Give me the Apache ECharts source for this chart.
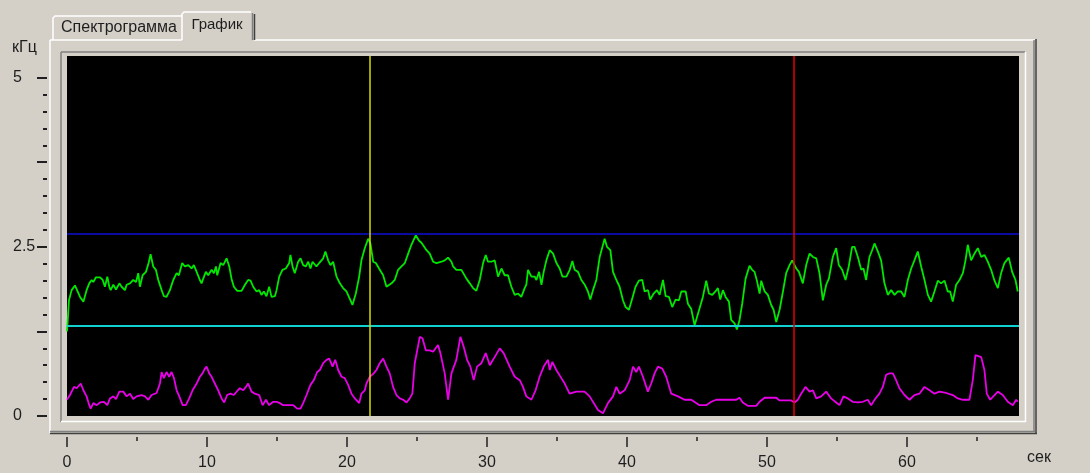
<!DOCTYPE html>
<html>
<head>
<meta charset="utf-8">
<script src="https://cdn.jsdelivr.net/npm/echarts@6/dist/echarts.min.js"></script>
<style>
  html, body { margin: 0; padding: 0; background: #d4d0c8; }
  #chart { width: 1090px; height: 473px; }
</style>
</head>
<body>
<div id="chart"></div>
<script>
// time in seconds, frequency in kHz
const upperTrace = [
  [0.00,1.25],[0.07,1.47],[0.14,1.71],[0.33,1.86],[0.57,1.93],[0.93,1.76],[1.17,1.69],[1.40,1.86],[1.59,1.96],[1.76,2.01],
  [1.88,1.98],[2.07,2.05],[2.36,2.05],[2.55,2.01],[2.71,1.91],[2.88,2.06],[3.02,1.91],[3.12,1.86],[3.31,1.94],[3.50,1.87],
  [3.74,1.96],[3.90,1.91],[4.14,1.86],[4.26,1.94],[4.50,1.96],[4.73,2.01],[4.93,1.98],[5.09,2.11],[5.21,1.91],[5.40,2.08],
  [5.64,2.13],[5.83,2.26],[5.97,2.39],[6.16,2.21],[6.35,2.16],[6.52,2.01],[6.76,1.86],[6.92,1.77],[7.11,1.76],[7.35,1.86],
  [7.59,2.01],[7.83,2.11],[7.99,2.08],[8.23,2.26],[8.42,2.21],[8.66,2.23],[8.90,2.18],[9.06,2.23],[9.26,2.13],[9.49,2.01],
  [9.61,1.96],[9.73,2.03],[9.92,2.13],[10.09,2.08],[10.33,2.16],[10.49,2.11],[10.64,2.21],[10.73,2.08],[10.97,2.26],[11.16,2.23],
  [11.40,2.33],[11.59,2.21],[11.75,2.03],[11.92,1.91],[12.16,1.85],[12.47,1.85],[12.71,1.94],[12.94,2.01],[13.11,2.00],[13.30,1.91],
  [13.54,1.84],[13.73,1.86],[13.89,1.79],[14.06,1.84],[14.25,1.77],[14.44,1.91],[14.61,1.76],[14.85,1.77],[14.97,1.86],[15.16,2.06],
  [15.39,2.16],[15.63,2.18],[15.73,2.16],[15.87,2.26],[15.96,2.38],[16.11,2.21],[16.27,2.11],[16.51,2.28],[16.68,2.33],[16.87,2.23],
  [17.06,2.21],[17.23,2.28],[17.39,2.18],[17.54,2.28],[17.82,2.21],[18.01,2.26],[18.30,2.33],[18.46,2.43],[18.65,2.30],[18.82,2.23],
  [19.01,2.28],[19.25,2.06],[19.49,1.96],[19.72,1.89],[19.96,1.84],[20.25,1.71],[20.39,1.64],[20.63,1.81],[20.87,2.06],[21.03,2.30],
  [21.27,2.48],[21.51,2.62],[21.67,2.55],[21.87,2.28],[22.06,2.26],[22.29,2.18],[22.58,2.08],[22.82,1.91],[22.94,1.91],[23.18,1.96],
  [23.41,2.01],[23.65,2.16],[23.89,2.21],[24.13,2.26],[24.37,2.40],[24.60,2.53],[24.91,2.67],[25.15,2.59],[25.32,2.56],[25.68,2.45],
  [25.91,2.40],[26.15,2.28],[26.39,2.26],[26.75,2.28],[26.98,2.30],[27.22,2.34],[27.46,2.28],[27.58,2.21],[27.81,2.16],[28.17,2.16],
  [28.29,2.18],[28.53,2.03],[28.77,1.96],[29.00,1.89],[29.24,1.85],[29.48,2.01],[29.72,2.26],[29.91,2.38],[30.07,2.28],[30.31,2.28],
  [30.55,2.30],[30.79,2.06],[31.03,2.18],[31.26,2.08],[31.50,2.08],[31.74,1.91],[31.98,1.79],[32.22,1.81],[32.45,1.76],[32.69,1.89],
  [32.81,1.94],[32.93,2.16],[33.17,2.06],[33.41,2.06],[33.53,2.01],[33.72,2.13],[33.89,1.94],[34.05,2.13],[34.24,2.30],[34.48,2.45],
  [34.72,2.40],[34.96,2.26],[35.19,2.18],[35.39,2.06],[35.67,2.06],[35.91,2.16],[36.10,2.29],[36.26,2.16],[36.50,2.13],[36.74,2.01],
  [36.98,1.94],[37.21,1.84],[37.38,1.72],[37.57,1.86],[37.81,2.01],[38.05,2.35],[38.40,2.62],[38.57,2.50],[38.81,2.45],[39.00,2.13],
  [39.24,2.01],[39.47,1.91],[39.71,1.71],[39.90,1.61],[40.14,1.57],[40.38,1.74],[40.61,1.91],[40.85,2.00],[41.09,2.01],[41.26,1.84],
  [41.50,1.86],[41.66,1.72],[41.90,1.81],[42.14,1.86],[42.33,1.79],[42.57,2.01],[42.76,1.77],[43.00,1.76],[43.23,1.61],[43.47,1.72],
  [43.71,1.71],[43.88,1.84],[44.19,1.84],[44.35,1.66],[44.59,1.58],[44.83,1.34],[45.18,1.59],[45.42,1.76],[45.66,2.00],[45.85,1.81],
  [46.09,1.79],[46.32,1.84],[46.49,1.89],[46.66,1.72],[46.85,1.86],[47.04,1.76],[47.28,1.69],[47.44,1.42],[47.68,1.37],[47.85,1.28],
  [48.04,1.42],[48.23,1.66],[48.47,2.03],[48.75,2.22],[48.94,2.16],[49.11,2.13],[49.28,2.00],[49.47,1.81],[49.59,2.00],[49.83,1.84],
  [50.06,1.79],[50.30,1.64],[50.47,1.57],[50.66,1.39],[50.90,1.57],[51.14,1.84],[51.37,2.11],[51.61,2.23],[51.80,2.30],[52.09,2.18],
  [52.28,2.13],[52.56,1.96],[52.80,2.23],[53.04,2.40],[53.28,2.35],[53.52,2.33],[53.75,2.11],[53.99,1.71],[54.23,1.94],[54.42,2.03],
  [54.70,2.35],[54.94,2.48],[55.13,2.23],[55.37,2.16],[55.61,2.01],[55.84,2.21],[56.08,2.50],[56.25,2.50],[56.49,2.35],[56.73,2.16],
  [56.89,2.18],[57.08,2.01],[57.32,2.35],[57.51,2.45],[57.68,2.55],[57.92,2.43],[58.15,2.30],[58.39,1.96],[58.63,1.79],[58.87,1.86],
  [59.11,1.79],[59.34,1.84],[59.58,1.84],[59.82,1.76],[60.06,2.01],[60.30,2.18],[60.53,2.30],[60.77,2.43],[61.01,2.21],[61.25,2.01],
  [61.49,1.79],[61.72,1.69],[61.96,1.84],[62.20,2.00],[62.44,1.96],[62.68,2.00],[62.91,1.84],[63.08,1.84],[63.27,1.69],[63.51,1.94],
  [63.75,2.01],[63.99,2.11],[64.18,2.30],[64.34,2.53],[64.58,2.30],[64.82,2.40],[65.06,2.48],[65.30,2.35],[65.53,2.38],[65.77,2.28],
  [66.01,2.16],[66.25,2.00],[66.49,1.89],[66.72,2.11],[66.96,2.26],[67.27,2.34],[67.51,2.13],[67.75,2.01],[67.91,1.84]
];

const lowerTrace = [
  [0.00,0.24],[0.21,0.31],[0.50,0.43],[0.69,0.41],[0.98,0.48],[1.17,0.38],[1.40,0.29],[1.59,0.16],[1.69,0.11],[1.88,0.19],
  [2.12,0.16],[2.36,0.20],[2.64,0.21],[2.88,0.16],[3.07,0.26],[3.31,0.29],[3.50,0.25],[3.74,0.36],[4.02,0.36],[4.26,0.29],
  [4.50,0.33],[4.73,0.25],[4.97,0.29],[5.33,0.31],[5.57,0.29],[5.81,0.24],[6.04,0.31],[6.40,0.34],[6.64,0.48],[6.76,0.65],
  [6.92,0.56],[7.11,0.65],[7.30,0.58],[7.47,0.65],[7.64,0.56],[7.83,0.38],[8.02,0.29],[8.26,0.16],[8.49,0.16],[8.73,0.26],
  [8.97,0.38],[9.26,0.48],[9.49,0.58],[9.68,0.63],[9.85,0.70],[9.97,0.73],[10.16,0.63],[10.33,0.58],[10.56,0.48],[10.80,0.38],
  [11.04,0.26],[11.23,0.20],[11.44,0.31],[11.68,0.33],[11.92,0.31],[12.16,0.37],[12.35,0.41],[12.59,0.38],[12.78,0.43],[12.94,0.48],
  [13.18,0.36],[13.42,0.33],[13.73,0.31],[13.97,0.16],[14.21,0.24],[14.44,0.16],[14.73,0.21],[14.97,0.21],[15.20,0.19],[15.44,0.16],
  [15.80,0.16],[16.16,0.16],[16.44,0.11],[16.68,0.11],[16.87,0.19],[17.11,0.31],[17.39,0.46],[17.63,0.53],[17.87,0.65],[18.06,0.68],
  [18.30,0.78],[18.54,0.83],[18.73,0.85],[18.97,0.73],[19.16,0.83],[19.37,0.68],[19.61,0.58],[19.84,0.56],[20.08,0.46],[20.32,0.33],
  [20.56,0.26],[20.87,0.19],[21.03,0.33],[21.27,0.38],[21.39,0.48],[21.63,0.58],[21.91,0.63],[22.10,0.68],[22.34,0.78],[22.58,0.85],
  [22.82,0.73],[23.05,0.63],[23.29,0.43],[23.53,0.31],[23.77,0.26],[24.01,0.24],[24.25,0.20],[24.48,0.26],[24.67,0.33],[24.84,0.78],
  [25.20,1.17],[25.39,1.15],[25.63,0.97],[25.91,0.97],[26.15,0.95],[26.50,1.05],[26.67,0.93],[26.98,0.63],[27.22,0.24],[27.46,0.63],
  [27.81,0.83],[28.10,1.17],[28.34,1.02],[28.58,0.83],[28.81,0.73],[29.05,0.53],[29.29,0.73],[29.60,0.78],[29.91,0.93],[30.20,0.75],
  [30.43,0.83],[30.91,1.00],[31.19,0.93],[31.62,0.73],[31.98,0.58],[32.34,0.53],[32.57,0.43],[32.81,0.29],[33.17,0.24],[33.47,0.38],
  [33.76,0.58],[34.05,0.73],[34.36,0.83],[34.48,0.68],[34.67,0.80],[34.95,0.68],[35.31,0.56],[35.55,0.48],[35.90,0.33],[36.38,0.36],
  [36.97,0.36],[37.33,0.29],[37.93,0.09],[38.28,0.04],[38.64,0.19],[39.00,0.29],[39.24,0.43],[39.47,0.33],[39.83,0.38],[40.19,0.53],
  [40.43,0.73],[40.66,0.65],[40.85,0.73],[41.14,0.58],[41.49,0.36],[41.73,0.48],[41.97,0.63],[42.21,0.73],[42.52,0.70],[42.80,0.58],
  [43.16,0.33],[43.64,0.29],[44.11,0.24],[44.59,0.24],[45.18,0.16],[45.66,0.16],[46.02,0.21],[46.37,0.24],[47.09,0.24],[47.80,0.24],
  [48.04,0.27],[48.27,0.20],[48.63,0.15],[49.23,0.15],[49.47,0.21],[49.83,0.27],[50.66,0.27],[50.90,0.23],[51.73,0.23],[51.97,0.20],
  [52.20,0.24],[52.44,0.33],[52.75,0.43],[53.04,0.36],[53.28,0.38],[53.52,0.26],[53.87,0.29],[54.23,0.36],[54.58,0.26],[54.94,0.20],
  [55.18,0.16],[55.46,0.29],[55.77,0.26],[56.13,0.21],[56.49,0.20],[56.84,0.21],[57.20,0.24],[57.44,0.16],[57.68,0.24],[58.03,0.33],
  [58.27,0.43],[58.51,0.61],[58.75,0.63],[58.99,0.63],[59.22,0.53],[59.46,0.41],[59.82,0.31],[60.18,0.24],[60.53,0.31],[60.89,0.33],
  [61.25,0.43],[61.61,0.38],[61.96,0.33],[62.32,0.36],[62.80,0.34],[63.27,0.31],[63.63,0.26],[63.99,0.24],[64.46,0.24],[64.70,0.53],
  [64.89,0.90],[65.30,0.87],[65.53,0.68],[65.70,0.33],[65.94,0.24],[66.25,0.31],[66.49,0.36],[66.84,0.31],[67.20,0.21],[67.56,0.16],
  [67.80,0.24],[67.91,0.21]
];

// cursors and thresholds
const cursorYellow = 21.6;
const cursorRed = 51.9;
const levelHigh = 2.69;
const levelLow = 1.33;

// axes
const timeMax = 68;
const freqMax = 5.32;
const xMajorTicks = [0, 10, 20, 30, 40, 50, 60];
const xMinorTicks = [5, 15, 25, 35, 45, 55, 65];
const yMajorTicks = [0, 1.25, 2.5, 3.75, 5];
const yLabels = [0, 2.5, 5];
const yMinorTicks = [0.25, 0.5, 0.75, 1, 1.5, 1.75, 2, 2.25, 2.75, 3, 3.25, 3.5, 4, 4.25, 4.5, 4.75];

const font = "'Liberation Sans', Arial, sans-serif";
const txt = '#1e1e1e';

let chart = echarts.init(document.getElementById('chart'));

// grid 0 = black plot, grid 1 = y ruler (left of frame), grid 2 = x ruler (under frame)
function hiddenAxis(grid, max) {
  return { type: 'value', gridIndex: grid, min: 0, max: max, show: false };
}
function xRuler(ticks, len, labels) {
  return {
    type: 'value', gridIndex: 2, min: 0, max: timeMax, position: 'bottom',
    axisLine: { show: false }, splitLine: { show: false },
    axisTick: { customValues: ticks, length: len, lineStyle: { color: '#202020', width: 1.5 } },
    axisLabel: labels ? { customValues: labels, margin: 18, color: txt, fontSize: 16, fontFamily: font } : { show: false }
  };
}
function yRuler(ticks, len, labels) {
  return {
    type: 'value', gridIndex: 1, min: 0, max: freqMax, position: 'left',
    axisLine: { show: false }, splitLine: { show: false },
    axisTick: { customValues: ticks, length: len, lineStyle: { color: '#202020', width: 2 } },
    axisLabel: labels ? { customValues: labels, margin: 34, align: 'left', color: txt, fontSize: 16, fontFamily: font } : { show: false }
  };
}

// windows style 3d frame bits
function seg(x1, y1, x2, y2, c, w) {
  return { type: 'line', silent: true, shape: { x1: x1, y1: y1, x2: x2, y2: y2 }, style: { stroke: c, lineWidth: w || 1.5 } };
}

let option = {
  backgroundColor: '#d4d0c8',
  animation: false,
  grid: [
    { left: 67, right: 71, top: 56, bottom: 57, show: true, backgroundColor: '#000', borderWidth: 0 },
    { left: 47, right: 71, top: 56, bottom: 57, show: false },
    { left: 67, right: 71, top: 56, bottom: 36, show: false }
  ],
  xAxis: [hiddenAxis(0, timeMax), hiddenAxis(1, timeMax), xRuler(xMajorTicks, 10, xMajorTicks), xRuler(xMinorTicks, 4, null)],
  yAxis: [hiddenAxis(0, freqMax), yRuler(yMajorTicks, 10, yLabels), yRuler(yMinorTicks, 4, null), hiddenAxis(2, freqMax)],
  graphic: [
    // tab page
    seg(50, 40, 182, 40, '#ffffff'),
    seg(254, 40, 1035, 40, '#ffffff'),
    seg(50, 40, 50, 433, '#ffffff'),
    seg(1034, 40, 1034, 432, '#808080'),
    seg(1036, 39, 1036, 434, '#404040'),
    seg(50, 431.5, 1035, 431.5, '#808080'),
    seg(50, 433.5, 1037, 433.5, '#404040'),
    // sunken frame around the plot
    seg(61, 52, 1025, 52, '#808080'),
    seg(61, 52, 61, 422, '#808080'),
    seg(61, 421.5, 1026, 421.5, '#ffffff'),
    seg(1025.5, 52, 1025.5, 422, '#ffffff'),
    // tabs
    { type: 'polyline', silent: true, shape: { points: [[53, 40], [53, 18], [55, 16], [182, 16]] }, style: { stroke: '#ffffff', lineWidth: 1.5, fill: null } },
    { type: 'polyline', silent: true, shape: { points: [[182, 40], [182, 14], [184, 12], [251, 12]] }, style: { stroke: '#ffffff', lineWidth: 1.5, fill: null } },
    seg(252.5, 13, 252.5, 40, '#808080'),
    seg(254.5, 14, 254.5, 40, '#404040'),
    { type: 'text', silent: true, style: { text: 'Спектрограмма', x: 119, y: 28, align: 'center', verticalAlign: 'middle', fill: txt, font: '16px ' + font } },
    { type: 'text', silent: true, style: { text: 'График', x: 217, y: 25, align: 'center', verticalAlign: 'middle', fill: txt, font: '15px ' + font } },
    { type: 'text', silent: true, style: { text: 'кГц', x: 12, y: 48, align: 'left', verticalAlign: 'middle', fill: txt, font: '16px ' + font } },
    { type: 'text', silent: true, style: { text: 'сек', x: 1027, y: 458, align: 'left', verticalAlign: 'middle', fill: txt, font: '16px ' + font } }
  ],
  series: [
    {
      name: 'cursors', type: 'line', data: [], silent: true,
      markLine: {
        silent: true, symbol: 'none', animation: false, label: { show: false },
        data: [
          { yAxis: levelHigh, lineStyle: { color: '#0a0aa0', width: 2, type: 'solid' } },
          { yAxis: levelLow, lineStyle: { color: '#10d0d0', width: 2, type: 'solid' } },
          { xAxis: cursorYellow, lineStyle: { color: '#d8d800', width: 1.5, type: 'solid' } },
          { xAxis: cursorRed, lineStyle: { color: '#e80000', width: 1.5, type: 'solid' } }
        ]
      }
    },
    {
      name: 'upper', type: 'line', data: upperTrace, showSymbol: false, silent: true,
      lineStyle: { color: '#00e800', width: 1.8 }
    },
    {
      name: 'lower', type: 'line', data: lowerTrace, showSymbol: false, silent: true,
      lineStyle: { color: '#e800e8', width: 1.8 }
    }
  ]
};
chart.setOption(option);
</script>
</body>
</html>
